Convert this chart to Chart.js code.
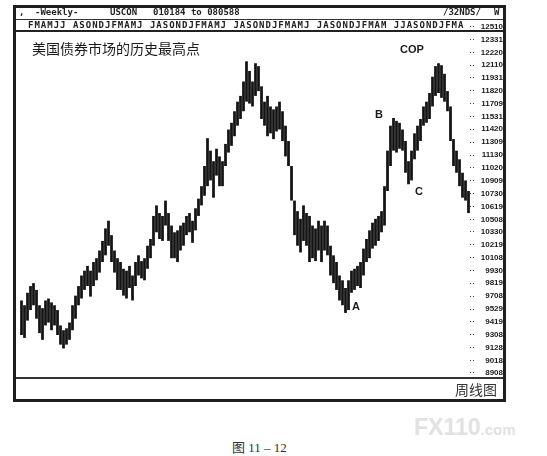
<!DOCTYPE html>
<html>
<head>
<meta charset="utf-8">
<script src="https://cdn.jsdelivr.net/npm/chart.js@4/dist/chart.umd.min.js"></script>
<style>
  body { margin: 0; background: #fff; }
  #page { position: relative; width: 547px; height: 456px; overflow: hidden; }
  .box { position: absolute; box-sizing: border-box; }
  .hd { position: absolute; font: bold 9px "DejaVu Sans Mono", monospace; color: #222; white-space: pre; }
  .note { position: absolute; color: #1a1a1a; white-space: pre; }
  canvas { position: absolute; left: 16px; top: 16px; }
</style>
</head>
<body>
<div id="page">
  <canvas id="myChart" width="487" height="361"></canvas>

  <!-- frame and header rows -->
  <div class="box" style="left:13px;top:5px;width:493px;height:397px;border:3px solid #1e1e1e;"></div>
  <div class="box" style="left:16px;top:19px;width:487px;height:1px;background:#333;"></div>
  <div class="box" style="left:16px;top:30px;width:487px;height:2px;background:#222;"></div>
  <div class="box" style="left:16px;top:377px;width:487px;height:2px;background:#333;"></div>

  <div class="hd" style="left:19px;top:7px;">,</div>
  <div class="hd" style="left:35px;top:7px;">-Weekly-</div>
  <div class="hd" style="left:110px;top:7px;">USCON</div>
  <div class="hd" style="left:153px;top:7px;">010184 to 080588</div>
  <div class="hd" style="left:443px;top:7px;">/32NDS/</div>
  <div class="hd" style="left:494px;top:7px;">W</div>
  <div class="hd" id="months" style="left:28px;top:20px;letter-spacing:1px;"></div>

  <div class="note" style="left:32px;top:38px;font:14px 'Noto Sans CJK SC',sans-serif;">美国债券市场的历史最高点</div>
  <div class="note" style="left:400px;top:43px;font:bold 11px 'Liberation Sans',sans-serif;">COP</div>
  <div class="note" style="left:375px;top:108px;font:bold 11px 'Liberation Sans',sans-serif;">B</div>
  <div class="note" style="left:415px;top:185px;font:bold 11px 'Liberation Sans',sans-serif;">C</div>
  <div class="note" style="left:352px;top:300px;font:bold 11px 'Liberation Sans',sans-serif;">A</div>
  <div class="note" style="left:455px;top:379px;font:14px 'Noto Sans CJK SC',sans-serif;color:#333;">周线图</div>
  <div class="note" style="left:232px;top:437px;font:13px 'Liberation Serif','Noto Sans CJK SC',serif;color:#333;">图 11 – 12</div>
  <div class="note" style="left:414px;top:414px;font:bold 23px 'Liberation Sans',sans-serif;color:#e2e2e2;">FX110<span style="font-size:15px;">.com</span></div>
</div>

<script>
// weekly high / low, bond futures (points and decimals)
const highs = [96.8,96.3,97.6,98.3,98.6,97.9,96.3,96.0,96.8,97.0,
  96.6,96.3,95.8,94.2,93.7,93.9,94.5,96.3,97.3,98.3,
  99.4,99.9,100.4,99.9,100.8,101.2,102.0,103.0,104.3,105.1,
  103.6,102.0,101.2,100.8,100.1,99.9,100.4,99.4,100.8,101.5,
  100.9,101.2,102.5,103.2,105.6,106.7,105.9,105.6,107.2,105.9,
  104.6,103.9,104.1,104.6,104.9,105.6,105.9,105.1,106.4,107.4,
  108.7,110.8,113.7,112.4,111.3,112.6,111.8,111.3,113.1,114.6,
  115.3,116.5,117.5,118.1,119.6,121.7,120.7,119.6,121.5,121.2,
  119.1,117.5,118.1,117.0,116.7,117.0,117.5,116.5,115.0,113.4,
  110.8,107.2,106.1,105.3,106.7,105.9,105.6,104.6,104.3,105.1,
  104.6,105.1,104.6,102.5,101.5,100.8,99.4,98.9,98.1,98.9,
  99.9,100.1,100.4,100.8,102.2,103.2,104.1,104.9,105.3,105.6,
  106.1,108.7,112.4,115.0,115.8,115.5,115.3,114.6,113.4,111.3,
  112.4,114.2,115.0,115.7,117.0,117.5,118.4,120.1,121.2,121.5,
  121.3,120.4,118.6,117.0,113.6,112.4,111.5,110.1,109.3,108.2];

const lows = [93.2,92.9,94.7,95.8,96.3,94.9,93.4,92.7,94.2,94.5,
  93.7,94.2,93.2,92.2,91.8,92.2,92.7,93.7,94.9,96.3,
  97.0,97.9,98.3,97.2,98.3,98.9,99.7,100.8,101.5,102.5,
  100.8,99.7,97.9,97.9,97.3,97.0,98.1,96.8,98.3,99.4,
  99.1,98.9,100.1,101.2,102.5,103.9,103.2,103.0,104.6,103.0,
  101.2,101.2,100.8,102.0,102.5,103.6,103.9,102.8,104.1,105.6,
  106.7,107.7,108.7,109.3,107.5,109.8,108.7,108.7,110.8,112.2,
  112.9,113.9,115.0,115.7,116.5,117.5,117.3,117.0,118.1,118.6,
  115.7,115.0,113.9,114.2,113.6,114.4,114.6,113.4,111.8,110.8,
  107.2,103.6,102.5,101.8,103.0,102.5,100.8,101.2,100.9,102.0,
  100.8,102.0,101.5,99.4,98.6,97.9,96.8,96.3,95.5,95.8,
  97.6,97.9,98.3,98.1,99.4,100.8,101.2,102.2,102.5,103.0,
  103.9,104.6,108.2,110.8,112.4,112.2,112.6,112.4,110.1,108.9,
  109.3,111.5,112.4,113.4,115.0,115.3,115.7,117.0,118.1,118.4,
  117.9,117.5,116.5,113.4,110.8,110.1,108.7,107.5,107.2,105.9];

// price scale labels, written in points + 32nds
const tickLabels = ["8908","9018","9128","9308","9419","9529","9708","9819","9930",
  "10108","10219","10330","10508","10619","10730","10909","11020","11130","11309",
  "11420","11531","11709","11820","11931","12110","12220","12331","12510"];

// month strip along the top, one group per year
const monthGroups = ["FMAMJJ", "ASONDJFMAMJ", "JASONDJFMAMJ", "JASONDJFMAMJ", "JASONDJFMAM", "JJASONDJFMA"];

document.getElementById("months").textContent = monthGroups.join(" ");

const weeks = highs.map((h, i) => i + 1);
const toPrice = (s) => Math.floor(Number(s) / 100) + (Number(s) % 100) / 32;

const ctx = document.getElementById("myChart");
new Chart(ctx, {
  type: "bar",
  data: {
    labels: weeks,
    datasets: [
      {
        data: highs.map((h, i) => [lows[i], h]),
        backgroundColor: "#141414",
        borderWidth: 0,
        barPercentage: 1,
        categoryPercentage: 0.92,
      },
    ],
  },
  options: {
    responsive: false,
    animation: false,
    layout: { padding: { left: 4, right: 0, top: 0, bottom: 0 } },
    scales: {
      x: { display: false },
      y: {
        position: "right",
        min: 88.83,
        max: 126.42,
        bounds: "data",
        afterFit: (s) => {
          s.width = 33;
          s.paddingTop = 0;
          s.paddingBottom = 0;
        },
        afterBuildTicks: (s) => {
          s.ticks = tickLabels.map((t) => ({ value: toPrice(t) }));
        },
        grid: {
          drawOnChartArea: false,
          drawTicks: true,
          tickLength: 6,
          tickBorderDash: [1, 2],
          tickColor: "#555",
        },
        border: { display: false },
        ticks: {
          autoSkip: false,
          padding: 4,
          crossAlign: "far",
          color: "#1a1a1a",
          font: { family: "'Liberation Sans Narrow','Liberation Sans',sans-serif", size: 8, weight: "bold" },
          callback: (v, i) => tickLabels[i],
        },
      },
    },
    plugins: {
      legend: { display: false },
      tooltip: { enabled: false },
    },
  },
});
</script>
</body>
</html>
